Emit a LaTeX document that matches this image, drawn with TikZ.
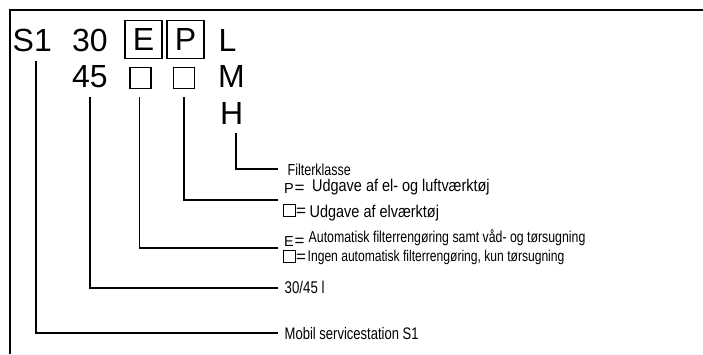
\documentclass[tikz,border=0pt]{standalone}
\usepackage{fontspec}
\setmainfont{Liberation Sans}
\newfontfamily\cond[FakeStretch=0.78]{Liberation Sans}
\newfontfamily\condb[FakeStretch=0.85]{Liberation Sans}
\usetikzlibrary{calc}
\tikzset{
  big/.style={inner sep=0pt, anchor=base west, font=\fontsize{32}{32}\selectfont},
  bigbox/.style={draw, line width=1.6pt, inner sep=0pt, minimum width=37pt, minimum height=38pt, font=\fontsize{32}{32}\selectfont},
  sq/.style={draw, line width=1.3pt, inner sep=0pt, minimum size=21pt},
  smallsq/.style={draw, line width=0.9pt, inner sep=0pt, minimum size=12.5pt},
  conn/.style={line width=1.8pt, line cap=rect},
  frame/.style={line width=1.4pt},
  lbl/.style={inner sep=0pt, anchor=base west},
  sym/.style={inner sep=0pt, anchor=base west, font=\fontsize{14.5}{14.5}\selectfont},
  eq/.style={inner sep=0pt, anchor=base west, font=\fontsize{17}{17}\selectfont},
}
\begin{document}
\begin{tikzpicture}[x=1pt,y=-1pt]
\useasboundingbox (0,0) rectangle (703,354);
\draw[frame] (10,354) -- (10,10) -- (703,10);
% code
\node[big] (s1) at (12.5,51.5) {S1};
\node[big] (n30) at (72,51.5) {30};
\node[bigbox] (boxE) at (143.5,39.5) {E};
\node[bigbox] (boxP) at (185.5,39.5) {P};
\node[big] (cL) at (218.5,51.5) {L};
\node[big] (n45) at (72,87.5) {45};
\node[sq] (sqE) at (140.5,78) {};
\node[sq] (sqP) at (184,78) {};
\node[big] (cM) at (218,87.5) {M};
\node[big] (cH) at (220,124.5) {H};
% labels
\node[lbl, font=\cond\fontsize{16}{16}\selectfont] (lH) at (287.5,175) {Filterklasse};
\node[sym] (symP) at (284,193) {P};
\node[eq] (eqP1) at (294.5,193) {=};
\node[lbl, font=\condb\fontsize{17}{17}\selectfont] (lP1) at (312,191) {Udgave af el- og luftværktøj};
\node[smallsq] (sqP2) at (289.5,210.5) {};
\node[eq] (eqP2) at (296,216.5) {=};
\node[lbl, font=\condb\fontsize{17}{17}\selectfont] (lP2) at (309.5,217) {Udgave af elværktøj};
\node[sym] (symE) at (284,246.5) {E};
\node[eq] (eqE1) at (294.5,246.5) {=};
\node[lbl, font=\cond\fontsize{15.8}{15.8}\selectfont] (lE1) at (308.5,242) {Automatisk filterrengøring samt våd- og tørsugning};
\node[smallsq] (sqE2) at (289.5,256.5) {};
\node[eq] (eqE2) at (296,262.5) {=};
\node[lbl, font=\cond\fontsize{15.5}{15.5}\selectfont] (lE2) at (307.5,261) {Ingen automatisk filterrengøring, kun tørsugning};
\node[lbl, font=\cond\fontsize{17}{17}\selectfont] (l45) at (284.5,293.5) {30/45 l};
\node[lbl, font=\cond\fontsize{16.7}{16.7}\selectfont] (lS1) at (284.5,339.5) {Mobil servicestation S1};
% connector ends
\coordinate (eH) at (277,169);
\coordinate (eP) at (277,200);
\coordinate (eE) at (277,248);
\coordinate (e45) at (277,288);
\coordinate (eS1) at (277,333);
% connectors
\draw[conn] ($(s1.base west)+(23.5,10)$) |- (eS1);
\draw[conn] ($(n45.base west)+(18,10)$) |- (e45);
\draw[conn] ($(sqE.south)+(-1,9)$) |- (eE);
\draw[conn] ($(sqP.south)+(0,9)$) |- (eP);
\draw[conn] ($(cH.base west)+(16,9)$) |- (eH);
\end{tikzpicture}
\end{document}
